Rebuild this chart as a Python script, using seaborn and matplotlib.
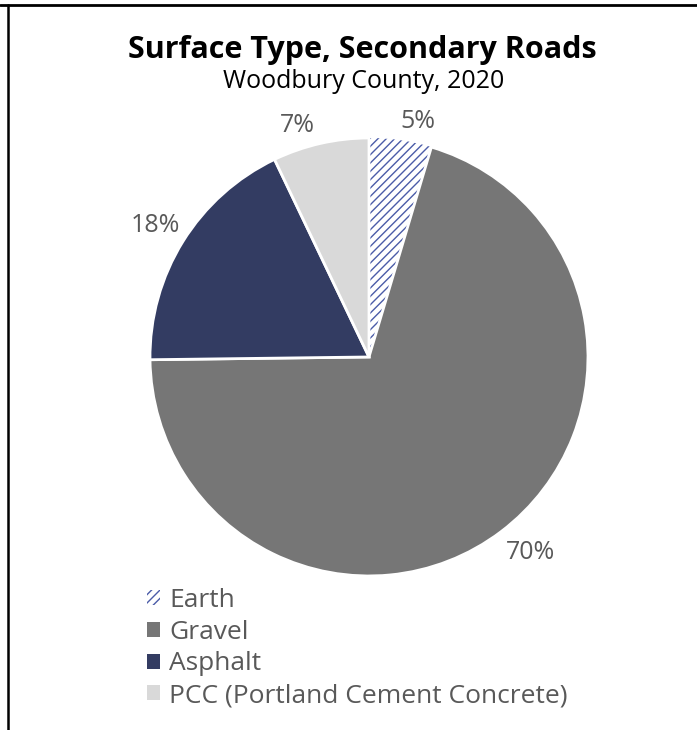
import matplotlib
matplotlib.use("Agg")
import numpy as np
import matplotlib.pyplot as plt
import seaborn as sns
from matplotlib.patches import Patch
from matplotlib.lines import Line2D

# данные
categories = ["Earth", "Gravel", "Asphalt", "PCC (Portland Cement Concrete)"]
shares = [4.6, 70.2, 18.1, 7.1]
colors = ["#ffffff", "#767676", "#333c62", "#d9d9d9"]
hatch_color = "#4b5ca8"
text_grey = "#595959"

sns.set_theme(style="white")
plt.rcParams['font.family'] = ['Open Sans', 'DejaVu Sans']

fig = plt.figure(figsize=(6.97, 7.3), dpi=100)
ax = fig.add_axes([0.2152, 0.2110, 0.6284, 0.6])

wedges, texts, autotexts = ax.pie(
    shares, colors=colors, startangle=90, counterclock=False,
    autopct="%.0f%%", pctdistance=1.13,
    wedgeprops=dict(edgecolor="white", linewidth=2),
    textprops=dict(color=text_grey, fontsize=18),
)
# подписи чуть дальше/ближе, как в Excel (outside end)
label_dist = [1.10, 1.16, 1.145, 1.105]
label_turn = [-3.5, 2.5, 0.3, 4.5]
for w, t, d, a in zip(wedges, autotexts, label_dist, label_turn):
    ang = np.deg2rad((w.theta1 + w.theta2) / 2 + a)
    t.set_position((d * np.cos(ang), d * np.sin(ang)))

# Earth - штриховка
wedges[0].set_hatch("////")
wedges[0].set_edgecolor(hatch_color)
wedges[0].set_linewidth(0)
ax.set_xlim(-1, 1)
ax.set_ylim(-1, 1)
ax.set_aspect("equal")
ax.axis("off")

fig.text(0.520, 1 - 50 / 730, "Surface Type, Secondary Roads", ha="center", va="center",
         fontsize=22, fontweight="bold", color="black")
fig.text(0.521, 1 - 82 / 730, "Woodbury County, 2020", ha="center", va="center",
         fontsize=18, color="black")

handles = []
for i, c in enumerate(colors):
    if i == 0:
        handles.append(Patch(facecolor="white", edgecolor=hatch_color, hatch="////", linewidth=0))
    else:
        handles.append(Patch(facecolor=c, edgecolor="none"))
fig.legend(handles, categories, loc="center left", bbox_to_anchor=(147 / 697, 1 - 648 / 730),
           frameon=False, borderpad=0, borderaxespad=0, handlelength=0.5, handleheight=0.5,
           handletextpad=0.35, labelspacing=0.26, fontsize=19, labelcolor=text_grey)

# рамка сверху и слева
fig.add_artist(Line2D([0, 1], [1 - 5 / 730, 1 - 5 / 730], color="black", lw=2, transform=fig.transFigure))
fig.add_artist(Line2D([8 / 697, 8 / 697], [0, 1 - 5 / 730], color="black", lw=1.8, transform=fig.transFigure))

fig.savefig("out.png", dpi=100)
